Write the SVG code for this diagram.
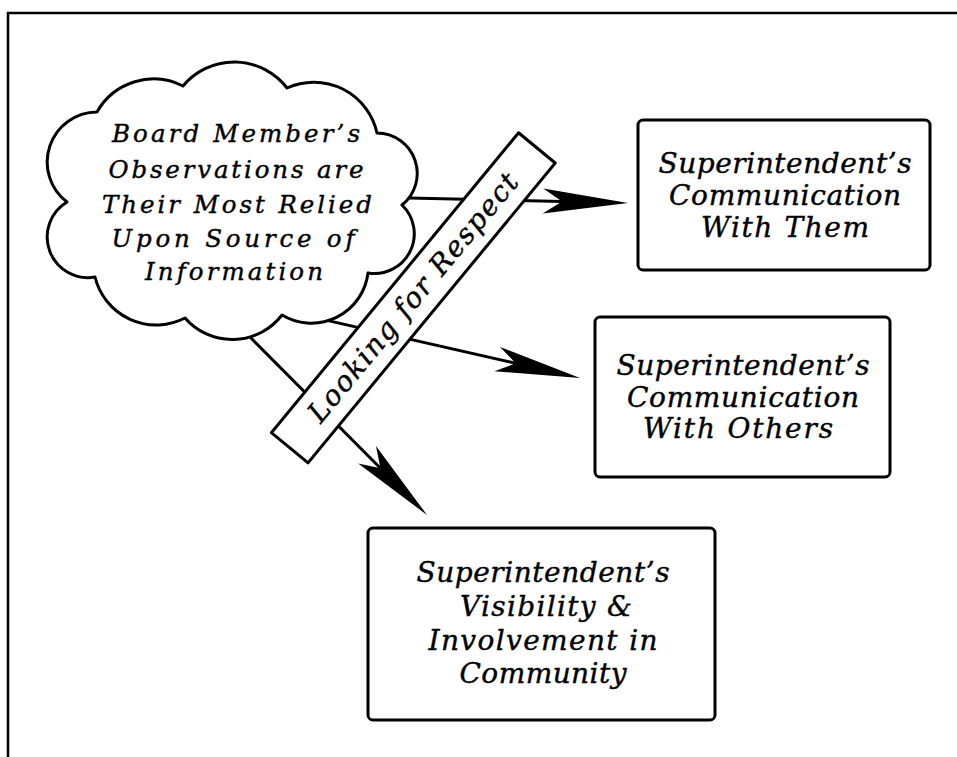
<svg xmlns="http://www.w3.org/2000/svg" width="957" height="757" viewBox="0 0 957 757">
<style>
.frame{fill:none;stroke:#000;stroke-width:2.5}
.shape{fill:#fff;stroke:#000;stroke-width:3;stroke-linejoin:round}
.conn{fill:none;stroke:#000;stroke-width:3}
.t{font-family:"DejaVu Serif","Liberation Serif",serif;font-style:italic;fill:#000;stroke:#000;stroke-width:0.4;text-anchor:middle}
.tc{font-size:24.5px}
.tb{font-size:28px}
.tr{font-size:28px}
</style>
<defs>
<marker id="ah" markerUnits="userSpaceOnUse" viewBox="-20 -14 88 28" markerWidth="88" markerHeight="28" refX="0" refY="0" orient="auto" overflow="visible">
<path d="M66,0 L-19,-12.5 L0,0 L-19,12.5 Z" fill="#000"/>
</marker>
</defs>
<rect width="957" height="757" fill="#fff"/>
<path class="frame" d="M8,760 V13 H960"/>
<g id="connectors">
<path class="conn" d="M409,198 L562,201.5" marker-end="url(#ah)"/>
<path class="conn" d="M328,320.6 L515.7,363.3" marker-end="url(#ah)"/>
<path class="conn" d="M250,337 L380.5,468.2" marker-end="url(#ah)"/>
</g>
<g id="cloud">
<path class="shape" d="M97,112 A65,65 0 0 1 183,86 A66.6,66.6 0 0 1 287,88 A64.7,64.7 0 0 1 377,133 A40.4,40.4 0 0 1 402,205 A39.8,39.8 0 0 1 368,273 A57,57 0 0 1 282,315 A62.6,62.6 0 0 1 185,318 A63,63 0 0 1 95,277 A40.7,40.7 0 0 1 67,202 A50.1,50.1 0 0 1 97,112 Z"/>
<text class="t tc" x="236" y="142" textLength="248" lengthAdjust="spacing">Board Member’s</text>
<text class="t tc" x="236" y="178" textLength="255" lengthAdjust="spacing">Observations are</text>
<text class="t tc" x="237" y="213" textLength="270" lengthAdjust="spacing">Their Most Relied</text>
<text class="t tc" x="233" y="247" textLength="243" lengthAdjust="spacing">Upon Source of</text>
<text class="t tc" x="234" y="280" textLength="178" lengthAdjust="spacing">Information</text>
</g>
<g id="box1">
<rect class="shape" x="638" y="120" width="292" height="150" rx="5"/>
<text class="t tb" x="785" y="173" textLength="253" lengthAdjust="spacing">Superintendent’s</text>
<text class="t tb" x="785" y="205" textLength="232" lengthAdjust="spacing">Communication</text>
<text class="t tb" x="785" y="237" textLength="168" lengthAdjust="spacing">With Them</text>
</g>
<g id="box2">
<rect class="shape" x="595" y="317" width="295" height="160" rx="5"/>
<text class="t tb" x="743" y="375" textLength="253" lengthAdjust="spacing">Superintendent’s</text>
<text class="t tb" x="743" y="407" textLength="232" lengthAdjust="spacing">Communication</text>
<text class="t tb" x="738" y="438" textLength="190" lengthAdjust="spacing">With Others</text>
</g>
<g id="box3">
<rect class="shape" x="368" y="528" width="347" height="192" rx="5"/>
<text class="t tb" x="543" y="582" textLength="253" lengthAdjust="spacing">Superintendent’s</text>
<text class="t tb" x="546" y="616" textLength="172" lengthAdjust="spacing">Visibility &amp;</text>
<text class="t tb" x="543" y="650" textLength="229" lengthAdjust="spacing">Involvement in</text>
<text class="t tb" x="543" y="683" textLength="167" lengthAdjust="spacing">Community</text>
</g>
<g id="banner" transform="translate(413.3,297.8) rotate(-50.5)">
<rect class="shape" x="-194.3" y="-23.75" width="388.6" height="47.5"/>
<text class="t tr" x="0" y="9" textLength="313" lengthAdjust="spacing">Looking for Respect</text>
</g>
</svg>
